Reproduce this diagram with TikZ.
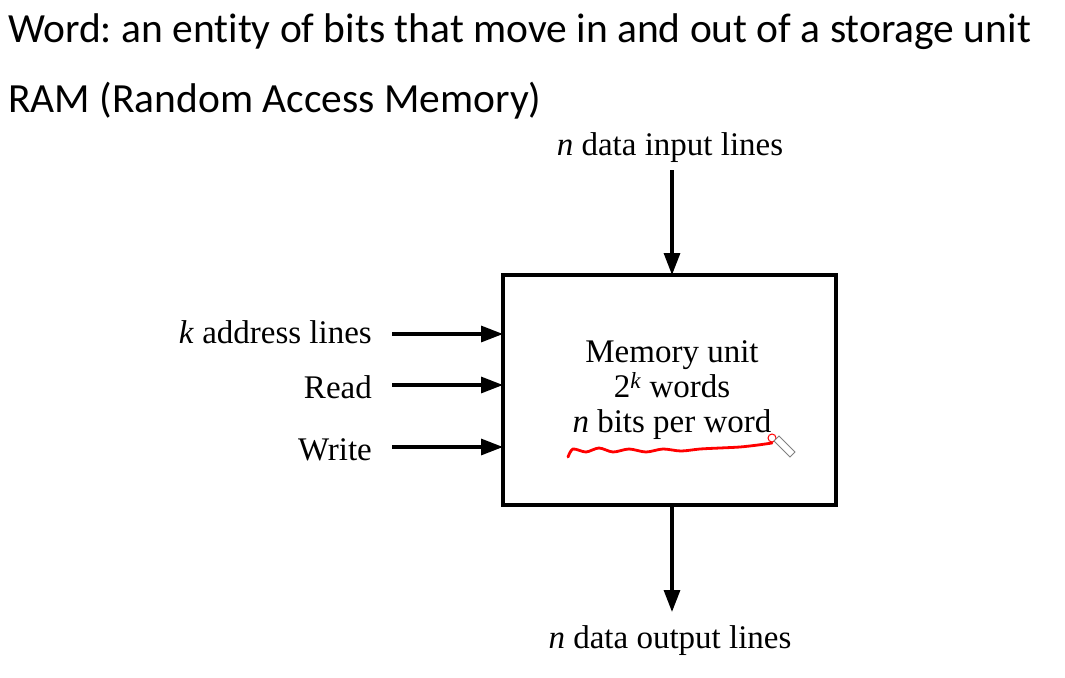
\documentclass[tikz,border=0pt]{standalone}
\usepackage{fontspec}
\setmainfont{Liberation Serif}
\newfontfamily\slidefont[Ligatures=NoCommon]{Carlito}
\usetikzlibrary{arrows.meta}
\frenchspacing

\begin{document}
\begin{tikzpicture}[x=1pt, y=-1pt,
	every node/.style = {inner sep=0pt, font=\fontsize{33}{38}\selectfont},
	heading/.style = {anchor=base west, font=\slidefont\fontsize{41.5}{48}\selectfont},
	signal/.style = {line width=3.2pt, -{Triangle[length=22pt, width=16pt]}},
	sidelabel/.style = {anchor=base east}]
	\useasboundingbox (0,0) rectangle (1065,677);
	\node[heading] (wordline) at (8,43) {Word: an entity of bits that move in and out of a storage unit};
	\node[heading] (ramline) at (8,112) {RAM (Random Access Memory)};
	% memory block
	\draw[line width=3.4pt] (503,275) rectangle (836,505);
	\coordinate (topin) at (672,275);
	\coordinate (botout) at (672,505);
	\node[align=center] (unit) at (672,390) {Memory unit\\[-3pt] 2\textsuperscript{\textit{k}} words\\[-3pt] \textit{n} bits per word};
	\node[anchor=base] (inlabel) at (670,155) {\textit{n} data input lines};
	\node[anchor=base] (outlabel) at (670,648) {\textit{n} data output lines};
	\coordinate (inend) at (672,170);
	\coordinate (outend) at (672,612);
	\draw[signal] (inend) -- (topin);
	\draw[signal] (botout) -- (outend);
	% inputs on the left
	\foreach \name/\txt/\ypos/\ybase in {addr/\textit{k} address lines/334/343, rd/Read/385/398, wr/Write/447/460}{
		\node[sidelabel] (\name) at (372,\ybase) {\txt};
		\coordinate (\name-in) at (503,\ypos);
		\draw[signal] (392,\ypos) -- (\name-in);
	}
	% pen mark
	\draw[red, line width=2.8pt, line cap=round] plot[smooth] coordinates {(568,457) (573,449) (586,452) (599,448) (613,452) (629,449) (646,452) (663,449) (681,451) (700,449) (720,448) (740,447) (758,445) (772,443)};
	\draw[red, line width=1pt] (772,438) circle (4);
	\draw[gray, fill=white, line width=1pt] (774,441) -- (779,436) -- (795,452) -- (790,457) -- cycle;
\end{tikzpicture}
\end{document}
